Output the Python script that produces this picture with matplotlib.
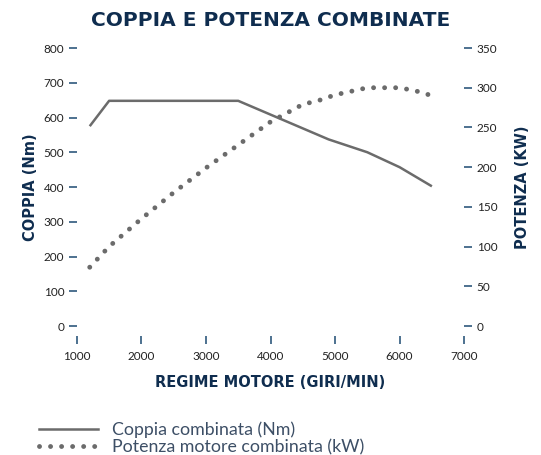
import matplotlib
matplotlib.use("Agg")
import matplotlib.pyplot as plt
from matplotlib.lines import Line2D

# data
rpm_coppia = [1200, 1500, 3500, 4900, 5500, 6000, 6500]
coppia = [575, 648, 648, 537, 500, 457, 402]
rpm_potenza = [1200, 1500, 2000, 2500, 3000, 3500, 4000, 4250, 4500, 4750, 5000, 5500, 6000, 6250, 6500]
potenza = [74, 100, 135, 168, 199, 228, 257, 268, 279, 284, 291, 300, 300, 296, 290]
xticks = [1000, 2000, 3000, 4000, 5000, 6000, 7000]
yticks_left = [0, 100, 200, 300, 400, 500, 600, 700, 800]
yticks_right = [0, 50, 100, 150, 200, 250, 300, 350]

navy = '#0f2d4f'
tickc = '#1d4a72'
grigio = '#6b6b6b'
dotted = (0, (0.01, 2.26))

fig = plt.figure(figsize=(5.41, 4.55), dpi=100)
ax = fig.add_axes([0.142, 0.2835, 0.716, 0.611])
ax2 = ax.twinx()

ax.plot(rpm_coppia, coppia, color=grigio, lw=1.8, solid_capstyle='butt')
ax2.plot(rpm_potenza, potenza, color=grigio, lw=3.5, linestyle=dotted,
         dash_capstyle='round')

ax.set_xlim(1000, 7000)
ax.set_ylim(0, 800)
ax2.set_ylim(0, 350)
ax.set_xticks(xticks)
ax.set_yticks(yticks_left)
ax2.set_yticks(yticks_right)

for a in (ax, ax2):
    for s in a.spines.values():
        s.set_visible(False)
ax.spines['bottom'].set_position(('outward', 7))

ax.tick_params(axis='x', direction='out', length=6, width=1.1, color=tickc, pad=5,
               labelsize=8.5, labelcolor='#222222')
ax.tick_params(axis='y', direction='out', length=6, width=1.1, color=tickc, pad=3,
               labelsize=8.5, labelcolor='#222222')
ax2.tick_params(axis='y', direction='out', length=6, width=1.1, color=tickc, pad=3,
                labelsize=8.5, labelcolor='#222222')
for lab in ax.get_xticklabels() + ax.get_yticklabels() + ax2.get_yticklabels():
    lab.set_family('Lato')

fig.text(0.5, 0.955, 'COPPIA E POTENZA COMBINATE', ha='center', va='center',
         fontsize=14.5, fontweight='bold', color=navy, family='DejaVu Sans')
ax.set_ylabel('COPPIA (Nm)', fontsize=10.5, fontweight='bold', color=navy, labelpad=4)
ax2.set_ylabel('POTENZA (KW)', fontsize=10.5, fontweight='bold', color=navy, labelpad=13)
ax.set_xlabel('REGIME MOTORE (GIRI/MIN)', fontsize=10.5, fontweight='bold', color=navy, labelpad=9)

handles = [Line2D([], [], color=grigio, lw=1.8),
           Line2D([], [], color=grigio, lw=3.5, linestyle=dotted, dash_capstyle='round')]
leg = fig.legend(handles, ['Coppia combinata (Nm)', 'Potenza motore combinata (kW)'],
                 loc='upper left', bbox_to_anchor=(0.072, 0.074), frameon=False,
                 handlelength=3.3, handletextpad=0.8, labelspacing=0.08, borderpad=0,
                 borderaxespad=0, prop={'family': 'Lato', 'size': 12.8})
for t in leg.get_texts():
    t.set_color('#3d4f66')

fig.savefig('out.png', dpi=100)
